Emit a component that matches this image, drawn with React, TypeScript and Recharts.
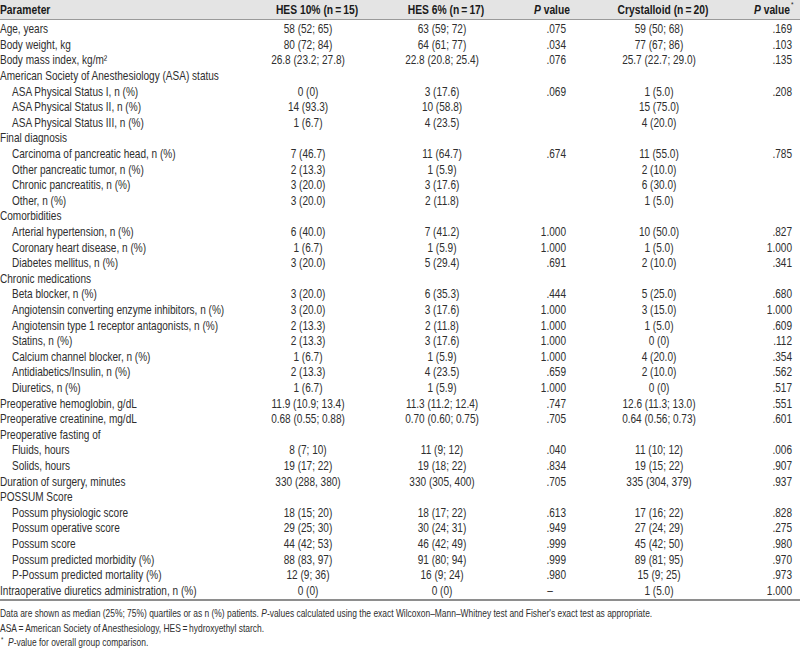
import React from "react";
import { ComposedChart, XAxis, YAxis, Bar, Customized } from "recharts";

const parameters = [
  "Age, years",
  "Body weight, kg",
  "Body mass index, kg/m²",
  "American Society of Anesthesiology (ASA) status",
  "ASA Physical Status I, n (%)",
  "ASA Physical Status II, n (%)",
  "ASA Physical Status III, n (%)",
  "Final diagnosis",
  "Carcinoma of pancreatic head, n (%)",
  "Other pancreatic tumor, n (%)",
  "Chronic pancreatitis, n (%)",
  "Other, n (%)",
  "Comorbidities",
  "Arterial hypertension, n (%)",
  "Coronary heart disease, n (%)",
  "Diabetes mellitus, n (%)",
  "Chronic medications",
  "Beta blocker, n (%)",
  "Angiotensin converting enzyme inhibitors, n (%)",
  "Angiotensin type 1 receptor antagonists, n (%)",
  "Statins, n (%)",
  "Calcium channel blocker, n (%)",
  "Antidiabetics/Insulin, n (%)",
  "Diuretics, n (%)",
  "Preoperative hemoglobin, g/dL",
  "Preoperative creatinine, mg/dL",
  "Preoperative fasting of",
  "Fluids, hours",
  "Solids, hours",
  "Duration of surgery, minutes",
  "POSSUM Score",
  "Possum physiologic score",
  "Possum operative score",
  "Possum score",
  "Possum predicted morbidity (%)",
  "P-Possum predicted mortality (%)",
  "Intraoperative diuretics administration, n (%)",
];

const isSubItem = [
  false, false, false, false, true, true, true, false, true, true, true, true,
  false, true, true, true, false, true, true, true, true, true, true, true,
  false, false, false, true, true, false, false, true, true, true, true, true, false,
];

const hes10 = [
  "58 (52; 65)", "80 (72; 84)", "26.8 (23.2; 27.8)", "", "0 (0)", "14 (93.3)", "1 (6.7)", "",
  "7 (46.7)", "2 (13.3)", "3 (20.0)", "3 (20.0)", "", "6 (40.0)", "1 (6.7)", "3 (20.0)", "",
  "3 (20.0)", "3 (20.0)", "2 (13.3)", "2 (13.3)", "1 (6.7)", "2 (13.3)", "1 (6.7)",
  "11.9 (10.9; 13.4)", "0.68 (0.55; 0.88)", "", "8 (7; 10)", "19 (17; 22)", "330 (288, 380)", "",
  "18 (15; 20)", "29 (25; 30)", "44 (42; 53)", "88 (83, 97)", "12 (9; 36)", "0 (0)",
];

const hes6 = [
  "63 (59; 72)", "64 (61; 77)", "22.8 (20.8; 25.4)", "", "3 (17.6)", "10 (58.8)", "4 (23.5)", "",
  "11 (64.7)", "1 (5.9)", "3 (17.6)", "2 (11.8)", "", "7 (41.2)", "1 (5.9)", "5 (29.4)", "",
  "6 (35.3)", "3 (17.6)", "2 (11.8)", "3 (17.6)", "1 (5.9)", "4 (23.5)", "1 (5.9)",
  "11.3 (11.2; 12.4)", "0.70 (0.60; 0.75)", "", "11 (9; 12)", "19 (18; 22)", "330 (305, 400)", "",
  "18 (17; 22)", "30 (24; 31)", "46 (42; 49)", "91 (80; 94)", "16 (9; 24)", "0 (0)",
];

const pValueHes = [
  ".075", ".034", ".076", "", ".069", "", "", "", ".674", "", "", "", "",
  "1.000", "1.000", ".691", "", ".444", "1.000", "1.000", "1.000", "1.000", ".659", "1.000",
  ".747", ".705", "", ".040", ".834", ".705", "", ".613", ".949", ".999", ".999", ".980", "–",
];

const crystalloid = [
  "59 (50; 68)", "77 (67; 86)", "25.7 (22.7; 29.0)", "", "1 (5.0)", "15 (75.0)", "4 (20.0)", "",
  "11 (55.0)", "2 (10.0)", "6 (30.0)", "1 (5.0)", "", "10 (50.0)", "1 (5.0)", "2 (10.0)", "",
  "5 (25.0)", "3 (15.0)", "1 (5.0)", "0 (0)", "4 (20.0)", "2 (10.0)", "0 (0)",
  "12.6 (11.3; 13.0)", "0.64 (0.56; 0.73)", "", "11 (10; 12)", "19 (15; 22)", "335 (304, 379)", "",
  "17 (16; 22)", "27 (24; 29)", "45 (42; 50)", "89 (81; 95)", "15 (9; 25)", "1 (5.0)",
];

const pValueOverall = [
  ".169", ".103", ".135", "", ".208", "", "", "", ".785", "", "", "", "",
  ".827", "1.000", ".341", "", ".680", "1.000", ".609", ".112", ".354", ".562", ".517",
  ".551", ".601", "", ".006", ".907", ".937", "", ".828", ".275", ".980", ".970", ".973", "1.000",
];

const headers = ["Parameter", "HES 10% (n\u2009=\u200915)", "HES 6% (n\u2009=\u200917)", "P value", "Crystalloid (n\u2009=\u200920)", "P value"];

const rows = parameters.map((p, i) => ({
  parameter: p,
  hes10: hes10[i],
  hes6: hes6[i],
  p1: pValueHes[i],
  cryst: crystalloid[i],
  p2: pValueOverall[i],
}));

const FONT = "'Liberation Sans', Arial, sans-serif";
const TEXT = "#2e2e2e";
const FS = 12.5;
const SX = 0.805;

const COL = { hes10: 308, hes6: 442, p1: 566, cryst: 659, p2: 792 };

const T = ({ x, y, anchor = "start", size = FS, weight = 400, fill = TEXT, sx = SX, children }: any) => (
  <text
    transform={`translate(${x},${y}) scale(${sx},1)`}
    x={0}
    y={0}
    textAnchor={anchor}
    fontFamily={FONT}
    fontSize={size}
    fontWeight={weight}
    fill={fill}
  >
    {children}
  </text>
);

const RowTick = (props: any) => {
  const { y, payload } = props;
  const idx = parameters.indexOf(payload.value);
  const r = rows[idx];
  if (!r) return null;
  const by = y + 4.5;
  const dash = r.p1 === "–";
  return (
    <g>
      <T x={isSubItem[idx] ? 12 : 0} y={by}>{r.parameter}</T>
      <T x={COL.hes10} y={by} anchor="middle">{r.hes10}</T>
      <T x={COL.hes6} y={by} anchor="middle">{r.hes6}</T>
      <T x={dash ? 550 : COL.p1} y={by} anchor={dash ? "middle" : "end"}>{r.p1}</T>
      <T x={COL.cryst} y={by} anchor="middle">{r.cryst}</T>
      <T x={COL.p2} y={by} anchor="end">{r.p2}</T>
    </g>
  );
};

const Decorations = () => {
  const HC = "#1a1a1a";
  return (
    <g>
      <rect x={0} y={0} width={800} height={19} fill="#e4e4e4" />
      <line x1={0} x2={800} y1={19.5} y2={19.5} stroke="#9a9a9a" strokeWidth={1} />
      <T x={0} y={14} size={12.8} weight={700} fill={HC}>{headers[0]}</T>
      <T x={317} y={14} anchor="middle" size={12.8} weight={700} fill={HC}>{headers[1]}</T>
      <T x={446} y={14} anchor="middle" size={12.8} weight={700} fill={HC}>{headers[2]}</T>
      <T x={570} y={14} anchor="end" size={12.8} weight={700} fill={HC}>
        <tspan fontStyle="italic">P</tspan> value
      </T>
      <T x={663} y={14} anchor="middle" size={12.8} weight={700} fill={HC}>{headers[4]}</T>
      <T x={790} y={14} anchor="end" size={12.8} weight={700} fill={HC}>
        <tspan fontStyle="italic">P</tspan> value
      </T>
      <T x={791} y={7} size={8} fill={HC}>*</T>
      <rect x={0} y={599} width={800} height={2} fill="#8e8e8e" />
      <T x={0} y={617} size={10.5}>
        Data are shown as median (25%; 75%) quartiles or as n (%) patients. <tspan fontStyle="italic">P</tspan>-values calculated using the exact Wilcoxon–Mann–Whitney test and Fisher's exact test as appropriate.
      </T>
      <T x={0} y={632} size={10.5}>
        ASA{"\u2009=\u2009"}American Society of Anesthesiology, HES{"\u2009=\u2009"}hydroxyethyl starch.
      </T>
      <T x={1} y={642} size={7.5}>*</T>
      <T x={8} y={646} size={10.5}>
        <tspan fontStyle="italic">P</tspan>-value for overall group comparison.
      </T>
    </g>
  );
};

export default function App() {
  return (
    <div style={{ position: "absolute", left: 0, top: 0, width: 800, height: 659, background: "#fff" }}>
      <ComposedChart
        width={800}
        height={659}
        data={rows}
        layout="vertical"
        margin={{ top: 21, right: 0, bottom: 61, left: 0 }}
      >
        <XAxis type="number" hide domain={[0, 1]} />
        <YAxis
          type="category"
          dataKey="parameter"
          width={1}
          interval={0}
          axisLine={false}
          tickLine={false}
          tick={<RowTick />}
        />
        <Bar dataKey="none" fill="none" isAnimationActive={false} />
        <Customized component={<Decorations />} />
      </ComposedChart>
    </div>
  );
}
